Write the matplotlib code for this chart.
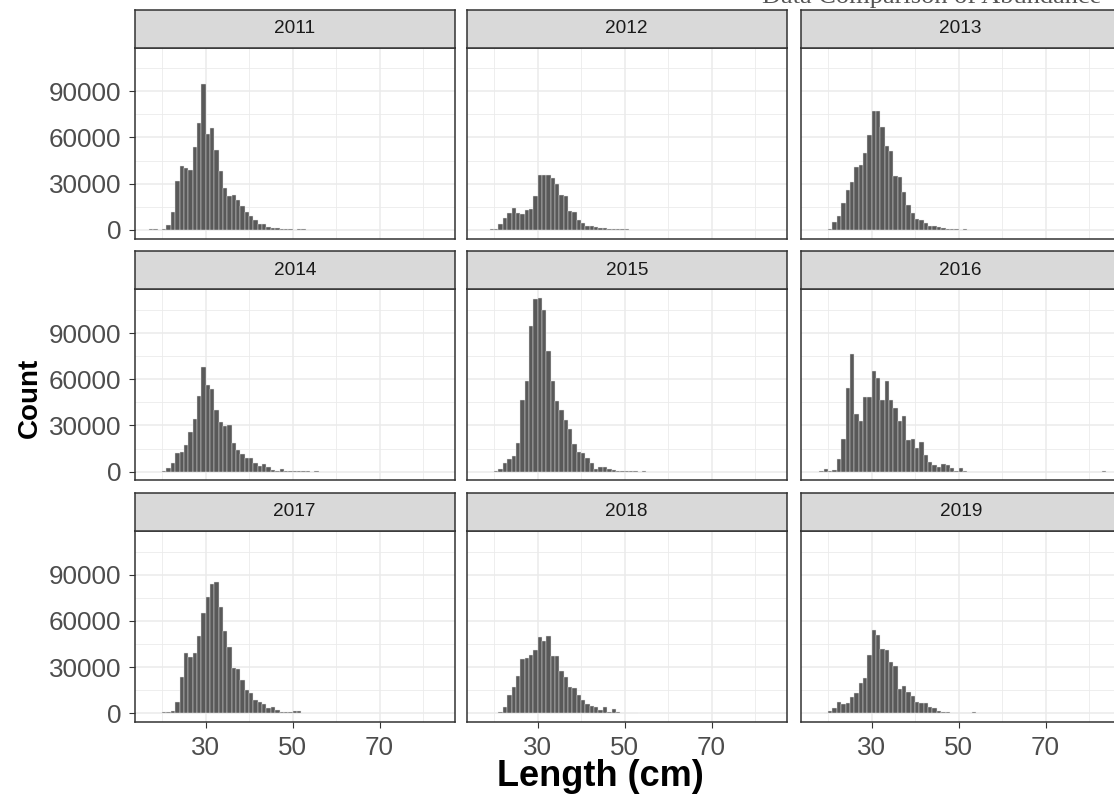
import matplotlib
matplotlib.use("Agg")
import matplotlib.pyplot as plt
import numpy as np
from matplotlib.ticker import FixedLocator

# Length-frequency histograms, 1 cm bins [k, k+1), one panel per year.
years = [2011, 2012, 2013, 2014, 2015, 2016, 2017, 2018, 2019]

# first bin (cm) of each year's count list
first_bin = [17, 19, 20, 20, 20, 18, 20, 21, 19]

count_2011 = [300, 300, 0, 500, 3000, 11900, 31500, 41700, 40400, 39000, 54000,
              69400, 95000, 62300, 66200, 51600, 38000, 27100, 21700, 22600, 19500,
              15200, 11300, 8700, 6300, 3500, 3900, 2000, 1300, 900, 600, 300, 300,
              200, 300, 300]
count_2012 = [400, 400, 3700, 7600, 10800, 13900, 11000, 10400, 13000, 13400, 21700,
              35800, 35800, 35800, 33600, 30000, 22600, 21700, 12200, 11900, 6500,
              4300, 2600, 2200, 2000, 1500, 900, 400, 300, 300, 300, 300]
count_2013 = [600, 5400, 9100, 17400, 26000, 30800, 40600, 42300, 49900, 61400,
              77400, 77400, 66800, 54200, 51000, 34700, 34000, 24300, 15800, 10800,
              7200, 6500, 4300, 2200, 2600, 2000, 1100, 500, 400, 300, 0, 300]
count_2014 = [300, 2200, 5400, 11900, 13000, 17400, 26000, 34000, 49200, 67900,
              56400, 53600, 40100, 32500, 29900, 30400, 18400, 14100, 11500, 8700,
              8700, 5900, 3900, 5000, 3000, 900, 700, 1700, 600, 600, 300, 300, 300,
              300, 0, 300]
count_2015 = [300, 1500, 5400, 8200, 10200, 18400, 46600, 58600, 94400, 112100,
              112800, 105200, 78500, 58600, 46200, 40100, 33600, 27500, 17800, 13000,
              11900, 8700, 5900, 2000, 2800, 3300, 1500, 1100, 600, 600, 300, 300,
              300, 0, 300]
count_2016 = [600, 2000, 400, 1000, 8200, 21000, 54200, 76600, 37300, 33200, 48400,
              48400, 65100, 60700, 46600, 58600, 46600, 41200, 33200, 36200, 20600,
              21000, 15200, 19300, 10800, 6500, 4300, 3300, 5000, 4300, 2200, 600,
              2200, 300] + [0] * 31 + [600]
count_2017 = [1000, 1000, 1500, 7600, 23900, 39100, 36700, 39300, 50400, 65200,
              75600, 84000, 85000, 69100, 53800, 43000, 29300, 28600, 21800, 15200,
              13000, 8700, 7600, 6100, 3300, 4300, 2200, 1100, 600, 600, 1500, 1500]
count_2018 = [1100, 4300, 12000, 17000, 24300, 35200, 35900, 38000, 41300, 49600,
              46700, 50400, 37400, 37400, 27800, 23500, 17400, 16300, 12000, 8700,
              6100, 5000, 4300, 2200, 4300, 1100, 2800, 1100, 400, 400, 400, 400]
count_2019 = [400, 1700, 3300, 7600, 6100, 6500, 10900, 13000, 19600, 23200, 38000,
              54000, 51000, 41700, 41300, 33300, 31000, 15500, 18000, 14000, 11000,
              7600, 6500, 6500, 4300, 3300, 1700, 1100, 600, 300, 200, 0, 300, 0, 600]

counts = [count_2011, count_2012, count_2013, count_2014, count_2015,
          count_2016, count_2017, count_2018, count_2019]

x_major = [30, 50, 70]
x_minor = [20, 40, 60, 80]
y_major = [0, 30000, 60000, 90000]
y_minor = [15000, 45000, 75000, 105000]

BAR = "#595959"
GRID = "#EBEBEB"
FRAME = "#333333"

plt.rcParams["font.family"] = ["Liberation Sans", "DejaVu Sans"]

W, H = 1114, 798
fig = plt.figure(figsize=(W / 100, H / 100), dpi=100)

# shared scales, expanded 5% like ggplot
lo = min(first_bin)
hi = max(s + len(c) for s, c in zip(first_bin, counts))
span = hi - lo
xlim = (lo - 0.05 * span, hi + 0.05 * span)
ymax = max(max(c) for c in counts)
ylim = (-0.05 * ymax, 1.05 * ymax)

col_left = [134.5, 466.5, 800.5]
panel_w = 320.5
row_top = [47.5, 289.3, 531.0]
panel_h = 191.0
strip_h = 38.0

for i, (year, start, c) in enumerate(zip(years, first_bin, counts)):
    r, k = divmod(i, 3)
    left = col_left[k] / W
    bottom = 1 - (row_top[r] + panel_h) / H
    ax = fig.add_axes([left, bottom, panel_w / W, panel_h / H])
    edges = np.arange(start, start + len(c))
    ax.bar(edges, c, width=1.0, align="edge", color=BAR,
           edgecolor="#E6E6E6", linewidth=0.3)
    ax.set_xlim(*xlim)
    ax.set_ylim(*ylim)
    ax.xaxis.set_major_locator(FixedLocator(x_major))
    ax.xaxis.set_minor_locator(FixedLocator(x_minor))
    ax.yaxis.set_major_locator(FixedLocator(y_major))
    ax.yaxis.set_minor_locator(FixedLocator(y_minor))
    ax.set_axisbelow(True)
    ax.grid(which="major", color=GRID, linewidth=1.1)
    ax.grid(which="minor", color=GRID, linewidth=0.6)
    for sp in ax.spines.values():
        sp.set_color(FRAME)
        sp.set_linewidth(1.1)
    ax.tick_params(which="minor", length=0)
    ax.tick_params(which="major", length=4.3, width=0.8, color=FRAME,
                   labelsize=18.7, labelcolor="#4D4D4D")
    ax.tick_params(axis="y", pad=5.0)
    ax.tick_params(axis="x", pad=6.0)
    if k == 0:
        ax.set_yticklabels([str(v) for v in y_major])
    else:
        ax.tick_params(axis="y", length=0, labelleft=False)
    if r == 2:
        ax.set_xticklabels([str(v) for v in x_major])
    else:
        ax.tick_params(axis="x", length=0, labelbottom=False)

    # facet strip
    sax = fig.add_axes([left, 1 - row_top[r] / H, panel_w / W, strip_h / H])
    sax.set_facecolor("#D9D9D9")
    sax.set_xticks([])
    sax.set_yticks([])
    for sp in sax.spines.values():
        sp.set_color(FRAME)
        sp.set_linewidth(1.1)
    sax.text(0.5, 0.5, str(year), ha="center", va="center", fontsize=13.7,
             color="#1A1A1A", transform=sax.transAxes)

fig.text(600 / W, 1 - 776 / H, "Length (cm)", ha="center", va="center",
         fontsize=26, fontweight="bold", color="black")
fig.text(30 / W, 1 - 398 / H, "Count", ha="center", va="center", rotation=90,
         fontsize=20, fontweight="bold", color="black")

# title of the source page, mostly cut off by the top edge (as in the original)
fig.text(762 / W, 1 - 2.5 / H, "Data Comparison of Abundance", ha="left",
         va="baseline", fontsize=19, color="#555555",
         family=["Liberation Serif", "DejaVu Serif"])

fig.savefig("out.png", dpi=100)
